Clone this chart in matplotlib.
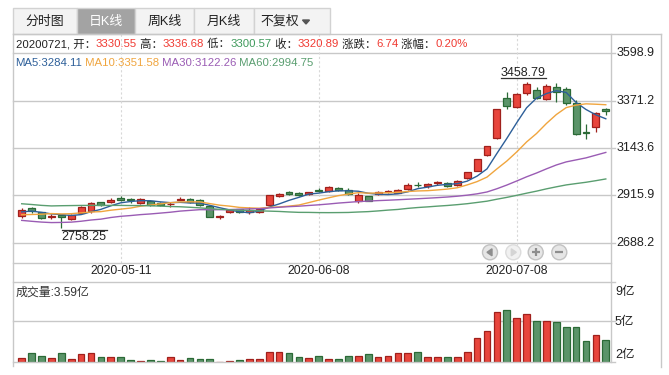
import matplotlib
matplotlib.use("Agg")
import matplotlib.pyplot as plt
import numpy as np
import pandas as pd
from matplotlib.patches import Rectangle, Circle, Polygon
from matplotlib.transforms import blended_transform_factory

plt.rcParams['font.family'] = ['Liberation Sans', 'Noto Sans CJK SC', 'DejaVu Sans']

# ---------------- data ----------------
dates = ["2020-04-22", "2020-04-23", "2020-04-24", "2020-04-27", "2020-04-28", "2020-04-29", "2020-04-30",
         "2020-05-06", "2020-05-07", "2020-05-08", "2020-05-11", "2020-05-12", "2020-05-13", "2020-05-14",
         "2020-05-15", "2020-05-18", "2020-05-19", "2020-05-20", "2020-05-21", "2020-05-22", "2020-05-25",
         "2020-05-26", "2020-05-27", "2020-05-28", "2020-05-29", "2020-06-01", "2020-06-02", "2020-06-03",
         "2020-06-04", "2020-06-05", "2020-06-08", "2020-06-09", "2020-06-10", "2020-06-11", "2020-06-12",
         "2020-06-15", "2020-06-16", "2020-06-17", "2020-06-18", "2020-06-19", "2020-06-22", "2020-06-23",
         "2020-06-24", "2020-06-29", "2020-06-30", "2020-07-01", "2020-07-02", "2020-07-03", "2020-07-06",
         "2020-07-07", "2020-07-08", "2020-07-09", "2020-07-10", "2020-07-13", "2020-07-14", "2020-07-15",
         "2020-07-16", "2020-07-17", "2020-07-20", "2020-07-21"]

open_ = [2818, 2853, 2835, 2812, 2822, 2801, 2829, 2841, 2883, 2884,
         2905, 2896, 2881, 2888, 2880, 2872, 2895, 2899, 2894, 2866,
         2813, 2834, 2849, 2838, 2837, 2871, 2913, 2930, 2929, 2920,
         2941, 2937, 2953, 2944, 2887, 2911, 2921, 2932, 2929, 2946,
         2968, 2962, 2975, 2977, 2966, 2997, 3034, 3110, 3190, 3382,
         3342, 3410, 3422, 3381, 3437, 3427, 3358, 3220, 3246, 3330.55]
high = [2857, 2858, 2838, 2826, 2826, 2825, 2866, 2884, 2886, 2905,
        2914, 2905, 2905, 2891, 2886, 2882, 2906, 2901, 2896, 2868,
        2822, 2849, 2852, 2860, 2855, 2916, 2927, 2937, 2932, 2934,
        2951, 2960, 2957, 2950, 2925, 2913, 2937, 2941, 2945, 2975,
        2980, 2975, 2984, 2979, 2991, 3026, 3091, 3153, 3333, 3411,
        3408, 3458.79, 3435, 3451, 3455, 3435, 3374, 3259, 3316, 3336.68]
low = [2808, 2833, 2800, 2802, 2758.25, 2797, 2825, 2832, 2866, 2880,
       2888, 2878, 2875, 2864, 2866, 2861, 2893, 2880, 2864, 2810,
       2802, 2830, 2830, 2826, 2833, 2871, 2907, 2919, 2913, 2917,
       2932, 2932, 2935, 2916, 2880, 2887, 2917, 2926, 2927, 2944,
       2958, 2952, 2966, 2954, 2962, 2993, 3032, 3103, 3185, 3330,
       3335, 3400, 3378, 3375, 3366, 3349, 3208, 3185, 3222, 3300.57]
close = [2843.98, 2838.50, 2808.53, 2815.49, 2810.02, 2822.44, 2860.08, 2878.14, 2871.52, 2895.34,
         2894.80, 2891.56, 2898.05, 2870.34, 2868.46, 2875.42, 2898.58, 2883.74, 2867.92, 2813.77,
         2817.97, 2846.22, 2836.80, 2846.55, 2852.35, 2915.43, 2921.40, 2923.37, 2919.25, 2930.80,
         2937.77, 2956.11, 2943.75, 2920.90, 2919.74, 2890.03, 2931.75, 2935.87, 2939.32, 2967.63,
         2965.27, 2969.20, 2979.55, 2961.52, 2984.67, 3025.98, 3090.57, 3152.81, 3332.88, 3345.34,
         3403.44, 3450.59, 3383.32, 3443.29, 3414.62, 3361.30, 3210.10, 3214.13, 3314.15, 3320.89]
# closes of the 59 sessions before the first shown day (used only for the moving averages)
prior_close = [3052.14, 3060.75, 2976.53,
               2746.61, 2783.29, 2818.09, 2866.51, 2875.96, 2890.49, 2901.67, 2926.90, 2906.07, 2917.01,
               2983.62, 2984.97, 2975.40, 3030.15, 3039.67, 3031.23, 3013.05, 2987.93, 2991.33, 2880.30,
               2970.93, 2992.90, 3011.67, 3071.68, 3034.51, 2943.29, 2996.76, 2968.52, 2923.49, 2887.43,
               2789.25, 2779.64, 2728.76, 2702.13, 2745.62, 2660.17, 2722.44, 2781.59, 2764.91, 2772.20,
               2747.21, 2750.30,
               2734.52, 2780.64, 2763.99, 2820.76, 2815.37, 2825.90, 2796.63, 2783.05, 2827.28, 2811.17,
               2819.94, 2838.49, 2852.55, 2827.01]
volume = [2.34, 2.65, 2.48, 2.34, 2.65, 2.27, 2.58, 2.65, 2.41, 2.41,
          2.41, 2.19, 2.12, 2.19, 2.12, 2.41, 2.19, 2.34, 2.27, 2.27,
          2.01, 2.07, 2.19, 2.27, 2.27, 2.73, 2.73, 2.65, 2.41, 2.34,
          2.48, 2.27, 2.27, 2.49, 2.49, 2.57, 2.42, 2.49, 2.71, 2.71,
          2.78, 2.42, 2.35, 2.42, 2.35, 2.78, 3.73, 4.24, 5.69, 5.83,
          5.25, 5.54, 5.03, 5.03, 4.96, 4.53, 4.53, 3.53, 3.95, 3.59]

price_ticks = [3598.9, 3371.2, 3143.6, 2915.9, 2688.2]
vol_ticks = [("9亿", 291.7), ("5亿", 321.7), ("2亿", 355.0)]
date_tick_labels = ["2020-05-11", "2020-06-08", "2020-07-08"]
tabs = ["分时图", "日K线", "周K线", "月K线", "不复权"]
info_parts = [("20200721, 开：", 'k'), ("3330.55", 'r'), (" 高：", 'k'), ("3336.68", 'r'),
              (" 低：", 'k'), ("3300.57", 'g'), (" 收：", 'k'), ("3320.89", 'r'),
              (" 涨跌：", 'k'), ("6.74", 'r'), (" 涨幅：", 'k'), ("0.20%", 'r')]
ma_label = [("MA5:3284.11", 5), (" MA10:3351.58", 10), (" MA30:3122.26", 30), (" MA60:2994.75", 60)]
vol_label = "成交量:3.59亿"

# ---------------- styles ----------------
UP_FACE, UP_EDGE = '#e8453c', '#a0201c'
DN_FACE, DN_EDGE = '#5b9469', '#2b6a36'
MA_COL = {5: '#2d5f99', 10: '#f0a53e', 30: '#9a5cb4', 60: '#5a9e70'}
TXT_COL = {'k': '#222222', 'r': '#f03a32', 'g': '#3f9a5c'}
GRID = '#c8c8c8'

W, H = 669, 375
fig = plt.figure(figsize=(W / 100, H / 100), dpi=100)
fig.patch.set_facecolor('white')

PL, PR = 12.7, 610.7
PT, PB = 34.0, 262.7
VT, VB = 281.7, 362.3
X0, DX = 21.7, 9.9

ax = fig.add_axes([PL / W, 1 - PB / H, (PR - PL) / W, (PB - PT) / H])
vx = fig.add_axes([PL / W, 1 - VB / H, (PR - PL) / W, (VB - VT) / H])
ov = fig.add_axes([0, 0, 1, 1], zorder=10)
ov.set_xlim(0, W)
ov.set_ylim(H, 0)
ov.axis('off')
ov.patch.set_alpha(0)
for a in (ax, vx):
    a.axis('off')
    a.set_xlim((PL - X0) / DX, (PR - X0) / DX)

n = len(close)
x = np.arange(n)
o = np.array(open_); c = np.array(close); h = np.array(high); l = np.array(low)
up = c >= o

# price axis scale
ppx = (price_ticks[0] - price_ticks[-1]) / (242.7 - 53.3)
ax.set_ylim(price_ticks[-1] - (PB - 242.7) * ppx, price_ticks[0] + (53.3 - PT) * ppx)

trans_p = blended_transform_factory(ax.transAxes, ax.transData)
ext = 4.0 / (PR - PL)
for v in price_ticks:
    ax.axhline(v, xmin=0, xmax=1 + ext, color=GRID, lw=1, clip_on=False, zorder=0)
    ax.text(1 + 5.5 / (PR - PL), v, f"{v:.1f}", transform=trans_p, ha='left', va='center',
            fontsize=9, color='#222222')

date_idx = [dates.index(d) for d in date_tick_labels]
trans_d = blended_transform_factory(ax.transData, ov.transData)
for i, lab in zip(date_idx, date_tick_labels):
    ax.axvline(i, color='#d8d8d8', ls=(0, (2, 2)), lw=0.8, zorder=0, ymax=1)
    ax.text(i, 271.5, lab, transform=trans_d, ha='center', va='center', fontsize=8.8, color='#222222')

# candles
face = np.where(up, UP_FACE, DN_FACE)
edge = np.where(up, UP_EDGE, DN_EDGE)
ax.vlines(x, l, h, colors=edge, lw=0.9, zorder=2)
ax.bar(x, np.maximum(np.abs(c - o), 0.3), bottom=np.minimum(o, c), width=0.7,
       color=face, edgecolor=edge, linewidth=0.9, zorder=3)

# moving averages
full = pd.Series(prior_close + close)
for _, m in ma_label:
    ma = full.rolling(m).mean().values[-n:]
    ax.plot(x, ma, color=MA_COL[m], lw=1.0, zorder=4)

renderer = fig.canvas.get_renderer()

# high / low marks
hi = int(np.argmax(h)); lo = int(np.argmin(l))
to_ov = ov.transData.inverted()
hx, hy = to_ov.transform(ax.transData.transform((hi, h[hi])))
t = ov.text(hx - 3.5, hy - 9.5, f"{h[hi]:.2f}", ha='center', va='center', fontsize=9, color='#222222')
bb = t.get_window_extent(renderer)
ov.plot([hx - 3.5 - bb.width / 2, hx - 3.5 + bb.width / 2], [hy - 4, hy - 4], color='#333333', lw=0.9)
lx, ly = to_ov.transform(ax.transData.transform((lo, l[lo])))
t = ov.text(lx + 0.5, ly + 9, f"{l[lo]:.2f}", ha='left', va='center', fontsize=9, color='#222222')
bb = t.get_window_extent(renderer)
ov.plot([lx + 0.5, lx + 0.5 + bb.width], [ly + 2, ly + 2], color='#333333', lw=0.9)

# volume
vppx = 3.0 / (VB - 321.0)
vx.set_ylim(2.0, 5.0 + (321.0 - VT) * vppx)
vx.axhline(5.0, xmin=0, xmax=1 + ext, color=GRID, lw=1, clip_on=False, zorder=0)
vol = np.array(volume)
vx.bar(x, vol - 2.0, bottom=2.0, width=0.68, color=face, edgecolor=edge, linewidth=0.9, zorder=3)
for lab, py in vol_ticks:
    ov.text(615, py, lab, ha='left', va='center', fontsize=9, color='#222222')

# frame lines
ov.plot([PL, 661], [PT, PT], color=GRID, lw=1)
ov.plot([PL, PL], [PT, 366], color=GRID, lw=1)
ov.plot([661, 661], [PT, 367], color=GRID, lw=1)
ov.plot([PR, PR], [PT, VB], color=GRID, lw=1)
ov.plot([PL, PR], [PB, PB], color=GRID, lw=1)
ov.plot([PL, PR + 4], [VT, VT], color=GRID, lw=1)
ov.plot([PL, PR + 4], [VB, VB], color=GRID, lw=1)

# tabs
tab_edges = [12.7, 77, 135, 194, 254, 330]
for k, name in enumerate(tabs):
    x0, x1 = tab_edges[k], tab_edges[k + 1]
    active = (k == 1)
    ov.add_patch(Rectangle((x0, 8), x1 - x0, PT - 8, facecolor='#a3a3a3' if active else '#f3f3f3',
                           edgecolor='#d2d2d2', lw=1))
    cx = (x0 + x1) / 2 - (12 if k == 4 else 0)
    ov.text(cx, 21.5, name, ha='center', va='center', fontsize=9.3,
            color='white' if active else '#222222')
ov.add_patch(Polygon([[302.5, 20], [309.5, 20], [306, 24]], closed=True, color='#555555'))

# info line
def seq_text(x0, y, parts, fs):
    xx = x0
    for s, col in parts:
        tt = ov.text(xx, y, s, color=col, ha='left', va='center', fontsize=fs)
        xx += tt.get_window_extent(renderer).width

seq_text(16, 44, [(s, TXT_COL[k]) for s, k in info_parts], 8.2)
seq_text(15, 62.5, [(s, MA_COL[m]) for s, m in ma_label], 8.2)
ov.text(16, 293, vol_label, ha='left', va='center', fontsize=8.6, color='#333333')

# navigation buttons
for k, bx in enumerate([490, 513.3, 535.7, 559.3]):
    dis = (k == 1)
    ov.add_patch(Circle((bx, 252.3), 7.5, facecolor='#f1f1f1' if dis else '#e6e6e6',
                        edgecolor='#dcdcdc' if dis else '#c2c2c2', lw=1))
    icol = '#d4d4d4' if dis else '#8e8e8e'
    if k == 0:
        ov.add_patch(Polygon([[bx - 3, 252.3], [bx + 2, 248.8], [bx + 2, 255.8]], closed=True, color=icol))
    elif k == 1:
        ov.add_patch(Polygon([[bx + 3, 252.3], [bx - 2, 248.8], [bx - 2, 255.8]], closed=True, color=icol))
    else:
        ov.plot([bx - 4, bx + 4], [252.3, 252.3], color=icol, lw=1.6, solid_capstyle='butt')
        if k == 2:
            ov.plot([bx, bx], [248.3, 256.3], color=icol, lw=1.6, solid_capstyle='butt')

fig.savefig('out.png', dpi=100)
